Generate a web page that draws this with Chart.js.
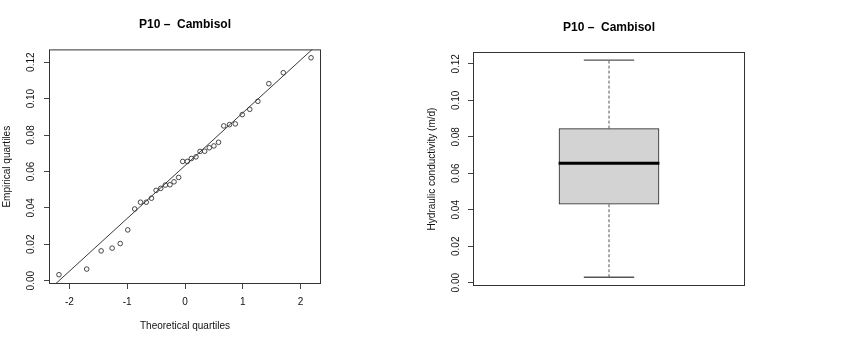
<!DOCTYPE html>
<html>
<head>
<meta charset="utf-8">
<script src="https://cdn.jsdelivr.net/npm/chart.js@4.4.1/dist/chart.umd.min.js"></script>
<style>
  html, body { margin: 0; padding: 0; background: #fff; }
  #wrap { position: relative; width: 850px; height: 347px; }
  canvas { position: absolute; top: 0; }
  #qqChart { left: 0; }
  #boxChart { left: 400px; }
</style>
</head>
<body>
<div id="wrap">
  <canvas id="qqChart" width="370" height="347"></canvas>
  <canvas id="boxChart" width="418" height="347"></canvas>
</div>
<script>
const TITLE = 'P10 –  Cambisol';

// normal Q-Q plot: theoretical quantiles vs sorted sample (m/d)
const theoQ = [-2.18, -1.70, -1.45, -1.26, -1.12, -0.99, -0.87, -0.77, -0.67, -0.58, -0.50, -0.42,
  -0.34, -0.26, -0.19, -0.11, -0.04, 0.04, 0.11, 0.19, 0.26, 0.34, 0.42, 0.50, 0.58, 0.67, 0.77,
  0.87, 0.99, 1.12, 1.26, 1.45, 1.70, 2.18];
const conductivity = [0.0033, 0.0064, 0.0164, 0.0179, 0.0204, 0.0279, 0.0394, 0.0431, 0.0431,
  0.0453, 0.0496, 0.0507, 0.0525, 0.0527, 0.0543, 0.0567, 0.0655, 0.0655, 0.0671, 0.0680, 0.0710,
  0.0711, 0.0730, 0.0740, 0.0760, 0.0850, 0.0857, 0.0861, 0.0912, 0.0941, 0.0985, 0.1082, 0.1142,
  0.1224];
// qqline (through the quartiles)
const qqIntercept = 0.0632;
const qqSlope = 0.029;

// boxplot: min whisker, lower hinge, median, upper hinge, max whisker
const boxStats = [0.003, 0.043, 0.0655, 0.0845, 0.122];

const xTicks = [-2, -1, 0, 1, 2];
const yTicks = [0, 0.02, 0.04, 0.06, 0.08, 0.10, 0.12];

Chart.defaults.font.family = '"Liberation Sans", Arial, sans-serif';
Chart.defaults.font.size = 10;
Chart.defaults.color = '#111';

const framePlugin = {
  id: 'frame',
  afterDatasetsDraw(chart) {
    const { ctx, chartArea: a } = chart;
    ctx.save();
    ctx.strokeStyle = '#333';
    ctx.lineWidth = 1;
    ctx.strokeRect(a.left + 0.5, a.top + 0.5, a.right - a.left - 1, a.bottom - a.top - 1);
    ctx.restore();
  }
};

function titleOpts(top, bottom) {
  return {
    display: true,
    text: TITLE,
    color: '#000',
    font: { size: 12, weight: 'bold' },
    padding: { top: top, bottom: bottom }
  };
}

function yAxis(width, tickPad, titleText, titlePad) {
  return {
    type: 'linear',
    position: 'left',
    min: -0.0018,
    max: 0.127,
    afterBuildTicks: s => { s.ticks = yTicks.map(v => ({ value: v })); },
    afterFit: s => { s.width = width; },
    grid: { drawOnChartArea: false, color: '#444', tickLength: 5 },
    border: { display: false },
    ticks: {
      autoSkip: false,
      minRotation: 90,
      maxRotation: 90,
      crossAlign: 'center',
      padding: tickPad,
      callback: v => v.toFixed(2)
    },
    title: { display: true, text: titleText, padding: { top: titlePad, bottom: 0 } }
  };
}

function padAxis(width) {
  return {
    type: 'linear',
    position: 'right',
    grid: { display: false },
    border: { display: false },
    ticks: { display: false },
    afterFit: s => { s.width = width; }
  };
}

// left panel: Q-Q plot
new Chart(document.getElementById('qqChart'), {
  type: 'scatter',
  data: {
    datasets: [
      {
        data: theoQ.map((q, i) => ({ x: q, y: conductivity[i] })),
        pointStyle: 'circle',
        pointRadius: 2.3,
        pointBorderWidth: 0.9,
        pointBorderColor: '#333',
        pointBackgroundColor: 'rgba(0,0,0,0)'
      },
      {
        type: 'line',
        data: [-3, 3].map(x => ({ x: x, y: qqIntercept + qqSlope * x })),
        borderColor: '#222',
        borderWidth: 0.9,
        pointRadius: 0
      }
    ]
  },
  options: {
    responsive: false,
    animation: false,
    layout: { padding: 0 },
    plugins: {
      legend: { display: false },
      tooltip: { enabled: false },
      title: titleOpts(17.8, 17.2)
    },
    scales: {
      x: {
        type: 'linear',
        min: -2.352,
        max: 2.352,
        afterBuildTicks: s => { s.ticks = xTicks.map(v => ({ value: v })); },
        afterFit: s => { s.height = 63; },
        grid: { drawOnChartArea: false, color: '#444', tickLength: 5 },
        border: { display: false },
        ticks: { autoSkip: false, maxRotation: 0, padding: 7.5 },
        title: { display: true, text: 'Theoretical quartiles', padding: { top: 0, bottom: 14.3 } }
      },
      y: yAxis(49, 3, 'Empirical quartiles', 1.5),
      pad: padAxis(49)
    }
  },
  plugins: [framePlugin]
});

// right panel: boxplot
const [wLow, hLow, med, hUp, wUp] = boxStats;
const boxCenter = 1, boxHalf = 0.2, capHalf = 0.1;
const segment = (x0, x1, y0, y1, extra) => Object.assign({
  type: 'line',
  data: [{ x: x0, y: y0 }, { x: x1, y: y1 }],
  pointRadius: 0,
  borderWidth: 1
}, extra);

new Chart(document.getElementById('boxChart'), {
  type: 'bar',
  data: {
    datasets: [
      segment(boxCenter - boxHalf, boxCenter + boxHalf, med, med, { borderColor: '#000', borderWidth: 3 }),
      segment(boxCenter, boxCenter, hUp, wUp, { borderColor: '#555', borderDash: [3, 2] }),
      segment(boxCenter, boxCenter, wLow, hLow, { borderColor: '#555', borderDash: [3, 2] }),
      segment(boxCenter - capHalf, boxCenter + capHalf, wUp, wUp, { borderColor: '#555', borderWidth: 1.3 }),
      segment(boxCenter - capHalf, boxCenter + capHalf, wLow, wLow, { borderColor: '#555', borderWidth: 1.3 }),
      {
        type: 'bar',
        data: [{ x: boxCenter, y: [hLow, hUp] }],
        backgroundColor: '#d3d3d3',
        borderColor: '#222',
        borderWidth: 1,
        borderSkipped: false,
        barThickness: 100
      }
    ]
  },
  options: {
    responsive: false,
    animation: false,
    layout: { padding: { bottom: 61 } },
    plugins: {
      legend: { display: false },
      tooltip: { enabled: false },
      title: titleOpts(20, 17.6)
    },
    scales: {
      x: { type: 'linear', min: 0.46, max: 1.54, offset: false, display: false },
      y: Object.assign(yAxis(73, 2.5, 'Hydraulic conductivity (m/d)', 26), { min: -0.0018, max: 0.1265 }),
      pad: padAxis(73)
    }
  },
  plugins: [framePlugin]
});
</script>
</body>
</html>
